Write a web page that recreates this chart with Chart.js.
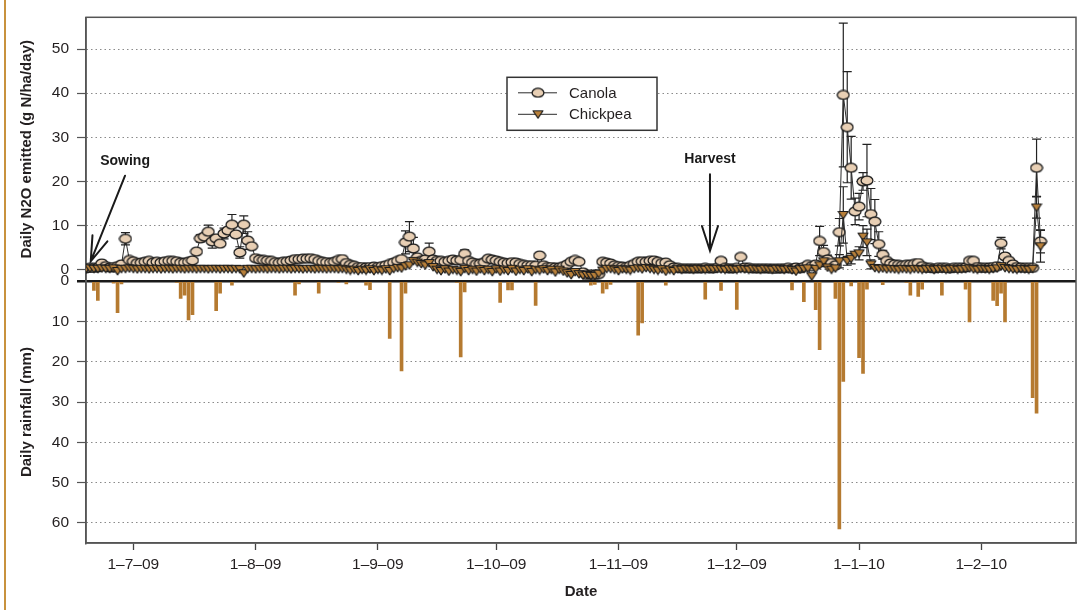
<!DOCTYPE html>
<html>
<head>
<meta charset="utf-8">
<script src="https://cdn.jsdelivr.net/npm/chart.js@4.4.1/dist/chart.umd.min.js"></script>
<style>
html,body{margin:0;padding:0;background:#fff;}
#wrap{position:relative;width:1082px;height:610px;overflow:hidden;}
#edge{position:absolute;left:4px;top:0;width:2px;height:610px;background:#c8923e;}
#c{position:absolute;left:0;top:0;}
</style>
</head>
<body>
<div id="wrap"><div id="edge"></div><canvas id="c" width="1082" height="610"></canvas></div>
<script>
'use strict';
// day 0 = 19 June 2009, one value per day
const X_MAX=251;
const MONTH_DAYS=[12,43,74,104,135,165,196,227];
const MONTH_LABELS=['1–7–09','1–8–09','1–9–09','1–10–09','1–11–09','1–12–09','1–1–10','1–2–10'];
const N2O_TICKS=[0,10,20,30,40,50];
const RAIN_TICKS=[0,10,20,30,40,50,60];

// daily N2O (g N/ha/day), days 0..242
const CANOLA=[
0.3,0.4,0.4,0.5,1.4,0.8,0.5,0.6,0.8,1.2,
7.0,2.2,1.9,1.5,1.6,1.8,2.0,1.6,1.8,1.6,
1.9,2.0,2.0,1.9,1.6,1.6,1.8,2.1,4.1,7.1,
7.5,8.6,6.4,7.1,5.9,8.2,8.9,10.2,8.0,3.9,
10.2,6.6,5.3,2.6,2.3,2.2,2.1,2.0,1.7,1.6,
1.8,1.9,2.1,2.4,2.4,2.5,2.5,2.6,2.4,2.0,
1.8,1.7,1.6,1.8,2.2,2.4,1.5,1.1,0.9,0.6,
0.6,0.5,0.6,0.7,0.6,0.8,1.0,1.3,1.6,2.0,
2.4,6.2,7.5,4.8,2.8,2.0,2.3,4.1,2.3,2.0,
2.0,1.8,2.0,2.3,2.1,2.2,3.6,2.0,1.6,1.3,
1.4,1.7,2.5,2.3,2.1,1.8,1.6,1.5,1.7,1.6,
1.3,1.1,1.0,1.0,0.9,3.2,1.0,0.6,0.6,0.5,
0.5,0.8,1.2,1.8,2.2,1.8,-0.6,-1.2,-1.1,-1.2,
-1.0,1.8,1.6,1.4,1.0,0.8,0.7,0.6,0.9,1.3,
1.8,1.9,1.8,2.0,2.1,1.8,1.5,1.6,1.0,0.5,
0.4,0.3,0.3,0.3,0.3,0.3,0.3,0.4,0.3,0.3,
0.4,2.0,0.4,0.3,0.3,0.4,2.9,0.5,0.4,0.3,
0.3,0.3,0.3,0.3,0.2,0.2,0.3,0.3,0.4,0.2,
0.5,0.3,0.6,1.1,0.8,1.2,6.5,4.0,2.3,1.5,
1.0,8.5,39.6,32.3,23.1,13.2,14.3,20.0,20.2,12.6,
10.9,5.8,3.4,2.0,1.4,1.2,1.1,1.0,1.1,1.2,
1.3,1.5,0.8,0.4,0.4,0.3,0.4,0.4,0.4,0.3,
0.4,0.4,0.4,0.5,2.0,2.0,0.6,0.4,0.4,0.5,
0.6,0.8,6.0,3.0,2.0,1.2,0.6,0.5,0.4,0.4,
0.4,23.1,6.4];
const CHICKPEA=[
0.2,0.3,0.2,0.2,0.3,0.2,0.2,0.3,-0.3,0.2,
0.2,0.3,0.2,0.1,0.2,0.2,0.1,0.2,0.2,0.1,
0.2,0.2,0.1,0.2,0.2,0.1,0.2,0.2,0.1,0.2,
0.2,0.1,0.2,0.2,0.1,0.2,0.2,0.1,0.2,0.1,
-0.8,0.2,0.2,0.1,0.2,0.2,0.1,0.2,0.2,0.1,
0.2,0.2,0.1,0.2,0.2,0.1,0.2,0.2,0.1,0.2,
0.2,0.1,0.2,0.2,0.1,0.2,0.0,-0.2,0.0,-0.3,
0.0,-0.2,0.1,-0.3,0.0,-0.2,0.1,-0.3,0.2,0.4,
0.3,0.8,1.0,2.0,1.6,1.3,1.0,1.5,0.6,0.0,
-0.3,0.1,-0.4,0.0,-0.2,-0.5,0.2,-0.3,0.0,-0.4,
0.1,-0.3,0.0,-0.5,0.1,-0.4,0.0,-0.3,0.2,-0.4,
0.0,-0.3,0.1,-0.5,0.0,-0.2,0.1,-0.3,0.0,-0.6,
0.0,-0.4,-0.8,-1.2,-0.5,-1.0,-1.3,-1.2,-1.4,-1.4,
-0.9,-0.2,0.2,0.2,0.0,-0.3,0.1,0.0,-0.2,0.2,
0.3,0.1,0.4,0.2,0.0,-0.2,0.1,-0.4,0.0,-0.3,
0.1,0.0,0.2,0.1,0.0,0.2,0.1,0.0,0.2,0.1,
0.2,0.1,0.0,0.2,0.1,0.0,0.2,0.1,0.0,0.2,
0.1,0.0,0.2,0.1,0.0,0.2,0.1,0.0,0.1,-0.1,
-0.4,0.1,0.2,0.3,-1.5,0.2,1.0,1.9,0.5,0.0,
0.3,1.9,12.4,2.0,2.5,3.4,3.7,7.5,6.2,1.2,
0.4,0.2,0.3,0.1,0.2,0.1,0.0,0.2,0.1,0.0,
0.2,0.1,0.0,0.1,0.2,0.0,0.1,0.2,0.0,0.1,
0.2,0.0,0.1,0.2,0.3,0.1,0.0,0.2,0.1,0.0,
0.2,0.3,0.8,0.4,0.2,0.1,0.0,0.2,0.1,0.0,
0.2,14.1,5.3];

// standard errors where they show beyond the markers
const CANOLA_ERR_DAY=[10,29,30,31,32,35,37,39,40,41,81,82,83,87,96,161,186,187,188,191,192,193,194,195,196,197,198,199,200,201,202,232,241,242];
const CANOLA_ERR=[1.4,0.8,0.7,1.5,1.5,1.2,2.3,1.3,2.0,2.0,2.6,3.4,2.5,1.9,0.9,0.6,3.3,1.5,1.0,3.1,16.3,12.6,7.1,3.0,3.0,2.0,8.2,5.8,5.0,2.8,1.0,1.3,6.5,2.6];
const CHICKPEA_ERR_DAY=[187,191,192,193,194,196,197,198,199,241,242];
const CHICKPEA_ERR=[1.2,1.5,6.4,1.0,1.2,1.5,2.5,3.0,1.0,2.4,3.6];

// daily rainfall (mm)
const RAIN_DAY=[2,3,7,8,9,23,24,25,26,27,33,34,37,53,54,59,64,66,71,72,77,80,81,94,95,96,105,107,108,114,128,129,131,132,133,140,141,147,157,161,165,179,182,185,186,190,191,192,194,196,197,198,202,208,209,211,212,217,223,224,230,231,232,233,240,241];
const RAIN_MM=[2.3,4.8,0.5,7.8,0.7,0.3,4.3,3.5,9.6,8.3,7.3,3.0,1.0,3.5,0.7,3.0,0.3,0.7,1.0,2.1,14.2,22.3,3.0,0.3,18.8,2.7,5.3,2.2,2.2,6.0,1.0,0.8,3.0,1.9,0.8,13.4,10.4,1.0,4.5,2.3,7.0,2.2,5.1,7.1,17.0,4.3,61.5,24.9,1.2,19.0,22.9,2.0,0.9,0.3,3.5,3.8,2.0,3.5,2.0,10.1,4.8,6.1,3.0,10.1,28.9,32.8];

const NOTES=[
  {label:'Sowing',day:1.2,n2o:1.9,tailDay:9.9,tailN2o:21.3},
  {label:'Harvest',day:158.2,n2o:4.3,tailDay:158.2,tailN2o:21.6}
];

const FONT='"Liberation Sans",Arial,sans-serif';
const INK='#231f20';
Chart.defaults.font.family=FONT;
Chart.defaults.color=INK;

function marker(w,h,draw){const c=document.createElement('canvas');c.width=w;c.height=h;draw(c.getContext('2d'));return c;}
const CIRCLE=marker(14,11,g=>{g.beginPath();g.ellipse(7,5.5,5.9,4.4,0,0,Math.PI*2);g.fillStyle='#e8cfb4';g.fill();g.lineWidth=1.3;g.strokeStyle='#1d1d1d';g.stroke();});
const TRIANGLE=marker(12,10,g=>{g.beginPath();g.moveTo(1,1.5);g.lineTo(11,1.5);g.lineTo(6,8.8);g.closePath();g.fillStyle='#b8803a';g.fill();g.lineJoin='round';g.lineWidth=1.2;g.strokeStyle='#1d1d1d';g.stroke();});

const pts=a=>a.map((v,i)=>({x:i,y:v}));
const isRainZero=c=>c.tick&&c.tick.value===0&&c.scale.id==='yRain';
const dotted=c=>isRainZero(c)?[]:[1.5,3];

const errorBars={id:'errorBars',beforeDatasetsDraw(chart){
  const {ctx,chartArea:a,scales:{x,yN2O}}=chart;
  ctx.save();ctx.beginPath();ctx.rect(a.left,a.top,a.width,a.height);ctx.clip();
  ctx.strokeStyle='#222';ctx.lineWidth=1.2;
  [[CANOLA,CANOLA_ERR_DAY,CANOLA_ERR],[CHICKPEA,CHICKPEA_ERR_DAY,CHICKPEA_ERR]].forEach(([vals,days,errs])=>{
    days.forEach((d,i)=>{
      const px=x.getPixelForValue(d),hi=yN2O.getPixelForValue(vals[d]+errs[i]),lo=yN2O.getPixelForValue(vals[d]-errs[i]);
      ctx.beginPath();ctx.moveTo(px,hi);ctx.lineTo(px,lo);
      ctx.moveTo(px-4.5,hi);ctx.lineTo(px+4.5,hi);ctx.moveTo(px-4.5,lo);ctx.lineTo(px+4.5,lo);ctx.stroke();
    });
  });
  ctx.restore();
  ctx.save();ctx.strokeStyle='#555';ctx.lineWidth=1.5;ctx.strokeRect(a.left,a.top,a.width,a.height);ctx.restore();
}};

const notes={id:'notes',afterDatasetsDraw(chart){
  const {ctx,scales:{x,yN2O}}=chart;
  ctx.save();ctx.strokeStyle='#1a1a1a';ctx.fillStyle='#1a1a1a';ctx.lineWidth=2;ctx.lineCap='round';
  ctx.font='bold 14px '+FONT;ctx.textAlign='center';ctx.textBaseline='middle';
  NOTES.forEach(n=>{
    const tx=x.getPixelForValue(n.day),ty=yN2O.getPixelForValue(n.n2o);
    const sx=x.getPixelForValue(n.tailDay),sy=yN2O.getPixelForValue(n.tailN2o);
    const ang=Math.atan2(sy-ty,sx-tx),head=26,spread=18*Math.PI/180;
    ctx.beginPath();ctx.moveTo(sx,sy);ctx.lineTo(tx,ty);
    ctx.moveTo(tx+head*Math.cos(ang-spread),ty+head*Math.sin(ang-spread));ctx.lineTo(tx,ty);
    ctx.lineTo(tx+head*Math.cos(ang+spread),ty+head*Math.sin(ang+spread));ctx.stroke();
    ctx.fillText(n.label,sx,sy-15);
  });
  ctx.restore();
}};

const boxLegend={id:'boxLegend',afterDraw(chart){
  const {ctx,chartArea:a}=chart;
  const bx=a.left+421,by=a.top+60,bw=150,bh=53;
  ctx.save();ctx.fillStyle='#fff';ctx.fillRect(bx,by,bw,bh);
  ctx.strokeStyle='#333';ctx.lineWidth=1.5;ctx.strokeRect(bx,by,bw,bh);
  ctx.font='15px '+FONT;ctx.textBaseline='middle';ctx.textAlign='left';
  chart.data.datasets.filter(d=>d.type==='line').forEach((d,i)=>{
    const ry=by+15.5+i*21.5;
    ctx.strokeStyle='#2b2b2b';ctx.lineWidth=1;ctx.beginPath();ctx.moveTo(bx+11,ry);ctx.lineTo(bx+50,ry);ctx.stroke();
    ctx.drawImage(d.pointStyle,bx+31-d.pointStyle.width/2,ry-d.pointStyle.height/2);
    ctx.fillStyle=INK;ctx.fillText(d.label,bx+62,ry+1);
  });
  ctx.restore();
}};

new Chart(document.getElementById('c'),{
  type:'line',
  data:{datasets:[
    {type:'line',label:'Canola',yAxisID:'yN2O',data:pts(CANOLA),order:1,borderColor:'#2b2b2b',borderWidth:1,tension:0,
      pointStyle:CIRCLE,pointRadius:5},
    {type:'line',label:'Chickpea',yAxisID:'yN2O',data:pts(CHICKPEA),order:0,borderColor:'#2b2b2b',borderWidth:1,tension:0,
      pointStyle:TRIANGLE,pointRadius:5},
    {type:'bar',label:'Rainfall',yAxisID:'yRain',data:RAIN_DAY.map((d,i)=>({x:d,y:RAIN_MM[i]})),order:2,
      backgroundColor:'#b57a30',barThickness:3,borderWidth:0}
  ]},
  options:{
    responsive:false,animation:false,devicePixelRatio:1,events:[],
    layout:{padding:{left:0,right:5,top:15,bottom:0}},
    plugins:{legend:{display:false},tooltip:{enabled:false}},
    scales:{
      x:{type:'linear',min:0,max:X_MAX,offset:false,
        afterBuildTicks:s=>{s.ticks=MONTH_DAYS.map(v=>({value:v}));},
        afterFit:s=>{s.height=67;},
        ticks:{autoSkip:false,maxRotation:0,padding:5,font:{size:15.5},color:INK,callback:(v,i)=>MONTH_LABELS[i]},
        grid:{offset:false,drawOnChartArea:false,drawTicks:true,tickLength:7,tickColor:'#444',tickWidth:1.3},
        border:{color:'#555',width:1.5},
        title:{display:true,text:'Date',font:{size:15,weight:'bold'},color:INK,padding:{top:0,bottom:9}}},
      yRain:{type:'linear',position:'left',stack:'panels',stackWeight:263,reverse:true,min:0,max:65,
        afterBuildTicks:s=>{s.ticks=RAIN_TICKS.map(v=>({value:v}));},
        afterFit:s=>{s.width=86;},
        ticks:{padding:8,font:{size:15.5},color:INK},
        grid:{color:c=>isRainZero(c)?'#1a1a1a':'#8a8a8a',lineWidth:c=>isRainZero(c)?2.5:1,
          tickLength:9,tickColor:c=>isRainZero(c)?'#1a1a1a':'#555',tickWidth:c=>isRainZero(c)?2.5:1.2},
        border:{color:'#555',width:1.5,dash:dotted},
        title:{display:true,text:'Daily rainfall (mm)',font:{size:15,weight:'bold'},color:INK,padding:{top:17.5,bottom:0}}},
      yN2O:{type:'linear',position:'left',stack:'panels',stackWeight:265,min:-2.6,max:57.2,
        afterBuildTicks:s=>{s.ticks=N2O_TICKS.map(v=>({value:v}));},
        afterFit:s=>{s.width=86;},
        ticks:{padding:8,font:{size:15.5},color:INK},
        grid:{color:'#8a8a8a',lineWidth:1,tickLength:9,tickColor:'#555',tickWidth:1.2},
        border:{color:'#555',width:1.5,dash:dotted},
        title:{display:true,text:'Daily N2O emitted (g N/ha/day)',font:{size:15,weight:'bold'},color:INK,padding:{top:17.5,bottom:0}}}
    }
  },
  plugins:[errorBars,notes,boxLegend]
});
</script>
</body>
</html>
